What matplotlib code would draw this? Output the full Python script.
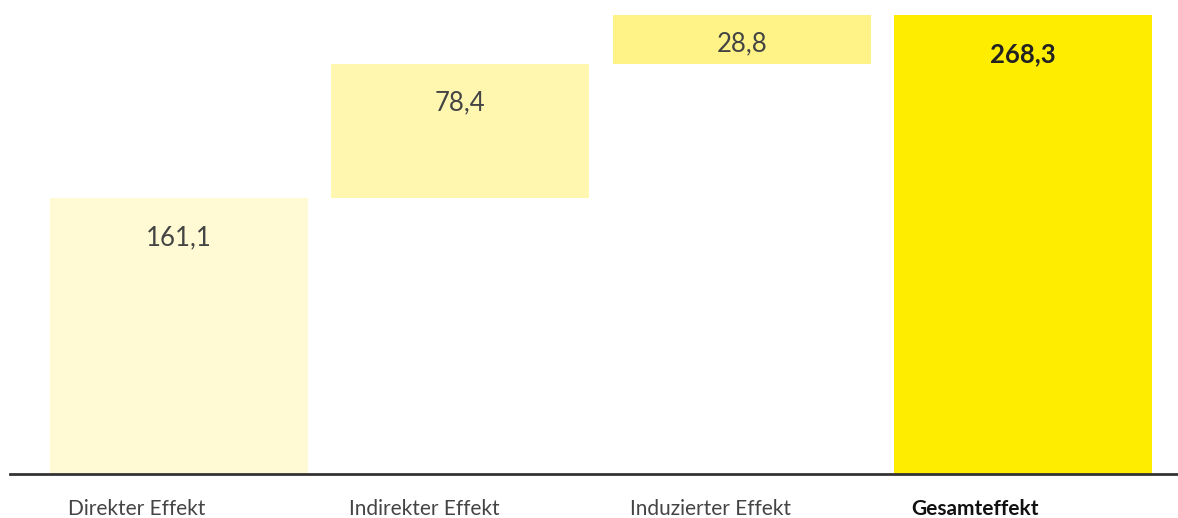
import numpy as np
import matplotlib.pyplot as plt

plt.rcParams['font.family'] = ['Lato', 'DejaVu Sans']

categories = ['Direkter Effekt', 'Indirekter Effekt', 'Induzierter Effekt', 'Gesamteffekt']
values = [161.1, 78.4, 28.8, 268.3]
labels = ['161,1', '78,4', '28,8', '268,3']
colors = ['#FFF9D4', '#FFF7B0', '#FFF387', '#FFED00']

# waterfall: each effect starts where the previous stopped, total from zero
bottoms = [0, values[0], values[0] + values[1], 0]

fig = plt.figure(figsize=(11.78, 5.18), dpi=100)
ax = fig.add_axes([10 / 1178, 44 / 518, 1 - 10 / 1178, 474 / 518])

x = np.arange(len(categories))
width = 0.917
ax.bar(x, values, width, bottom=bottoms, color=colors, edgecolor='none')

ymax = 268.3 * 474 / 459
ax.set_xlim(-0.601, 3.551)
ax.set_ylim(0, ymax)
px = ymax / 474  # data units per pixel

for i in range(len(categories)):
    top = bottoms[i] + values[i]
    bold = i == 3
    off = min(39, values[i] / px / 2 + 4) * px
    ax.text(x[i], top - off, labels[i], ha='center', va='center',
            fontsize=18.5, color='#222222' if bold else '#444444',
            fontweight='bold' if bold else 'normal')
    ax.text(x[i] - width / 2 + 0.062, -0.074, categories[i], transform=ax.get_xaxis_transform(),
            ha='left', va='center', fontsize=15, color='#111111' if bold else '#444444',
            fontweight='bold' if bold else 'normal')

for s in ['top', 'right', 'left']:
    ax.spines[s].set_visible(False)
ax.spines['bottom'].set_color('#333333')
ax.spines['bottom'].set_linewidth(2)
ax.set_xticks([])
ax.set_yticks([])

fig.savefig('out.png', dpi=100)
